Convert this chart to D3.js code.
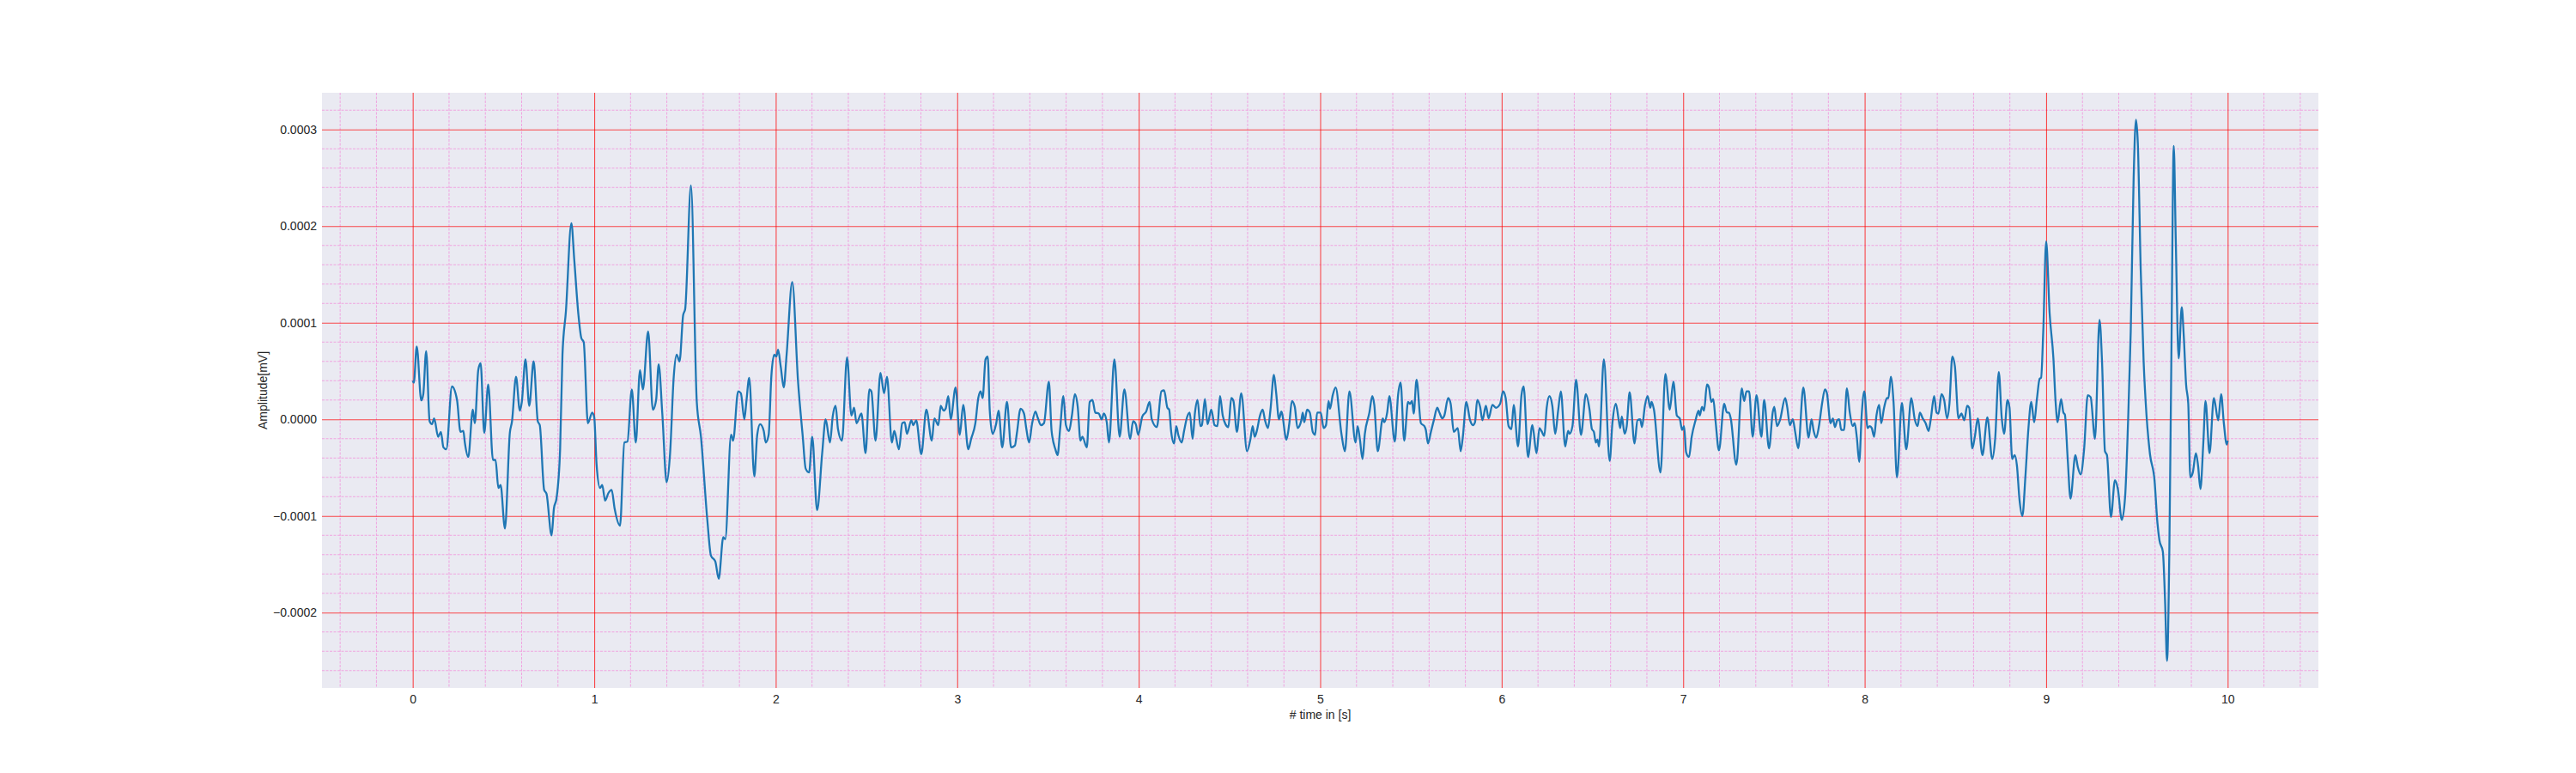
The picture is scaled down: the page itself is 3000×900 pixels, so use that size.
<!DOCTYPE html>
<html>
<head>
<meta charset="utf-8">
<script src="https://cdn.jsdelivr.net/npm/d3@7"></script>
<style>
  body { margin: 0; background: #fff; }
  text { font-family: "Liberation Sans", Arial, sans-serif; fill: #262626; }
</style>
</head>
<body>
<div id="chart"></div>
<script>
// Signal (peaks, troughs and bends)
// time in seconds
var times = [
  0.000, 0.006, 0.022, 0.047, 0.058, 0.074, 0.093, 0.106, 0.118, 0.140, 0.155, 0.169, 0.185, 0.216, 0.244, 0.263,
  0.279, 0.287, 0.306, 0.331, 0.342, 0.361, 0.374, 0.394, 0.416, 0.442, 0.456, 0.472, 0.484, 0.508, 0.535, 0.547,
  0.569, 0.590, 0.601, 0.621, 0.642, 0.666, 0.689, 0.700, 0.724, 0.737, 0.765, 0.778, 0.792, 0.812, 0.825, 0.844,
  0.874, 0.890, 0.913, 0.929, 0.942, 0.965, 0.989, 1.000, 1.013, 1.032, 1.044, 1.060, 1.079, 1.096, 1.112, 1.142,
  1.166, 1.183, 1.207, 1.229, 1.252, 1.268, 1.297, 1.323, 1.341, 1.355, 1.375, 1.399, 1.418, 1.438, 1.454, 1.470,
  1.490, 1.501, 1.533, 1.565, 1.588, 1.623, 1.643, 1.667, 1.686, 1.711, 1.722, 1.754, 1.765, 1.793, 1.808, 1.827,
  1.838, 1.854, 1.882, 1.898, 1.914, 1.934, 1.945, 1.961, 1.976, 1.992, 2.003, 2.013, 2.028, 2.044, 2.060, 2.091,
  2.123, 2.149, 2.165, 2.184, 2.201, 2.228, 2.256, 2.275, 2.299, 2.314, 2.330, 2.343, 2.365, 2.393, 2.417, 2.432,
  2.445, 2.472, 2.495, 2.516, 2.527, 2.550, 2.577, 2.597, 2.613, 2.640, 2.653, 2.679, 2.697, 2.711, 2.723, 2.747,
  2.758, 2.774, 2.802, 2.830, 2.860, 2.874, 2.896, 2.909, 2.925, 2.936, 2.951, 2.964, 2.991, 3.014, 3.033, 3.061,
  3.077, 3.100, 3.116, 3.129, 3.140, 3.156, 3.168, 3.179, 3.195, 3.214, 3.228, 3.248, 3.274, 3.297, 3.318, 3.329,
  3.349, 3.368, 3.381, 3.396, 3.412, 3.431, 3.443, 3.462, 3.478, 3.505, 3.520, 3.541, 3.553, 3.567, 3.585, 3.599,
  3.616, 3.632, 3.648, 3.664, 3.679, 3.690, 3.714, 3.730, 3.745, 3.761, 3.780, 3.796, 3.808, 3.824, 3.836, 3.866,
  3.895, 3.921, 3.953, 3.969, 3.984, 3.997, 4.020, 4.041, 4.060, 4.072, 4.100, 4.125, 4.140, 4.158, 4.168, 4.179,
  4.195, 4.207, 4.218, 4.237, 4.250, 4.266, 4.281, 4.297, 4.310, 4.324, 4.340, 4.348, 4.365, 4.379, 4.400, 4.418,
  4.434, 4.448, 4.463, 4.478, 4.494, 4.510, 4.522, 4.541, 4.565, 4.597, 4.615, 4.628, 4.639, 4.652, 4.667, 4.683,
  4.696, 4.712, 4.726, 4.745, 4.757, 4.773, 4.786, 4.814, 4.830, 4.844, 4.860, 4.875, 4.896, 4.904, 4.912, 4.928,
  4.943, 4.959, 4.972, 4.983, 5.003, 5.019, 5.032, 5.046, 5.054, 5.069, 5.085, 5.117, 5.136, 5.161, 5.195, 5.206,
  5.219, 5.233, 5.246, 5.271, 5.287, 5.298, 5.317, 5.345, 5.353, 5.369, 5.381, 5.411, 5.429, 5.443, 5.463, 5.484,
  5.495, 5.506, 5.515, 5.531, 5.555, 5.574, 5.582, 5.594, 5.610, 5.626, 5.645, 5.657, 5.673, 5.684, 5.705, 5.719,
  5.736, 5.758, 5.774, 5.786, 5.805, 5.826, 5.842, 5.853, 5.865, 5.881, 5.894, 5.913, 5.928, 5.949, 5.968, 5.991,
  6.008, 6.022, 6.038, 6.054, 6.066, 6.090, 6.109, 6.121, 6.145, 6.169, 6.192, 6.208, 6.219, 6.235, 6.248, 6.263,
  6.279, 6.295, 6.311, 6.326, 6.350, 6.366, 6.374, 6.390, 6.410, 6.437, 6.464, 6.484, 6.497, 6.508, 6.519, 6.528,
  6.536, 6.563, 6.595, 6.610, 6.629, 6.645, 6.653, 6.662, 6.677, 6.689, 6.705, 6.732, 6.748, 6.763, 6.773, 6.789,
  6.804, 6.819, 6.826, 6.839, 6.875, 6.902, 6.926, 6.946, 6.965, 6.981, 6.994, 7.005, 7.016, 7.032, 7.047, 7.068,
  7.085, 7.091, 7.104, 7.115, 7.131, 7.142, 7.155, 7.166, 7.178, 7.197, 7.226, 7.241, 7.252, 7.262, 7.293, 7.323,
  7.336, 7.349, 7.363, 7.383, 7.404, 7.431, 7.446, 7.473, 7.494, 7.502, 7.517, 7.533, 7.562, 7.573, 7.588, 7.604,
  7.617, 7.634, 7.662, 7.691, 7.707, 7.719, 7.733, 7.749, 7.765, 7.781, 7.792, 7.812, 7.825, 7.836, 7.849, 7.860,
  7.871, 7.886, 7.902, 7.918, 7.934, 7.945, 7.957, 7.970, 7.984, 7.998, 8.016, 8.028, 8.039, 8.052, 8.065, 8.080,
  8.091, 8.107, 8.123, 8.131, 8.144, 8.159, 8.178, 8.205, 8.229, 8.257, 8.276, 8.292, 8.304, 8.320, 8.336, 8.352,
  8.364, 8.383, 8.396, 8.407, 8.423, 8.438, 8.454, 8.467, 8.483, 8.497, 8.517, 8.533, 8.549, 8.565, 8.576, 8.593,
  8.607, 8.623, 8.649, 8.676, 8.703, 8.719, 8.739, 8.755, 8.768, 8.787, 8.798, 8.813, 8.826, 8.839, 8.853, 8.869,
  8.886, 8.902, 8.918, 8.934, 8.949, 8.964, 8.972, 8.984, 9.000, 9.019, 9.040, 9.052, 9.063, 9.082, 9.095, 9.103,
  9.119, 9.134, 9.161, 9.174, 9.190, 9.209, 9.229, 9.245, 9.269, 9.294, 9.308, 9.324, 9.335, 9.357, 9.379, 9.395,
  9.417, 9.435, 9.451, 9.466, 9.482, 9.495, 9.505, 9.521, 9.537, 9.553, 9.572, 9.597, 9.613, 9.624, 9.643, 9.655,
  9.666, 9.679, 9.690, 9.703, 9.714, 9.730, 9.747, 9.758, 9.771, 9.783, 9.794, 9.808, 9.825, 9.837, 9.850, 9.866,
  9.878, 9.900, 9.924, 9.948, 9.964, 9.979, 9.995, 10.000
];

// amplitude in units of 1e-4 mV
var amps = [
  0.40, 0.38, 0.755, 0.196, 0.26, 0.706, -0.02, -0.05, 0.01, -0.18, -0.13, -0.29, -0.31, 0.34, 0.20, -0.13,
  -0.12, -0.24, -0.39, 0.10, -0.04, 0.51, 0.58, -0.14, 0.36, -0.42, -0.42, -0.71, -0.68, -1.13, -0.14, -0.02,
  0.44, 0.09, 0.18, 0.62, 0.14, 0.60, -0.02, -0.06, -0.73, -0.77, -1.20, -0.92, -0.82, -0.31, 0.67, 1.12,
  2.03, 1.65, 1.08, 0.84, 0.80, -0.04, 0.07, 0.02, -0.47, -0.71, -0.68, -0.84, -0.76, -0.73, -0.92, -1.10,
  -0.24, -0.23, 0.31, -0.24, 0.51, 0.31, 0.91, 0.10, 0.20, 0.57, 0.06, -0.65, -0.35, 0.44, 0.67, 0.60,
  1.08, 1.14, 2.42, 0.18, -0.18, -1.04, -1.41, -1.47, -1.65, -1.22, -1.24, -0.16, -0.22, 0.29, 0.27, 0.00,
  0.18, 0.43, -0.59, -0.16, -0.05, -0.12, -0.24, -0.16, 0.45, 0.67, 0.65, 0.72, 0.54, 0.33, 0.67, 1.42,
  0.39, -0.18, -0.51, -0.55, -0.18, -0.94, -0.35, 0.00, -0.24, 0.03, 0.14, -0.10, -0.22, 0.64, 0.04, 0.12,
  -0.04, 0.06, -0.35, 0.31, 0.29, -0.22, 0.48, 0.27, 0.44, -0.24, -0.12, -0.31, -0.04, -0.03, -0.15, -0.01,
  -0.06, -0.01, -0.36, 0.10, -0.22, 0.01, -0.06, 0.14, 0.09, 0.11, 0.24, 0.00, 0.33, -0.16, 0.15, -0.31,
  -0.20, -0.04, 0.22, 0.29, 0.22, 0.62, 0.65, 0.10, -0.15, -0.05, 0.09, -0.29, 0.18, -0.29, -0.27, -0.14,
  0.11, 0.06, -0.10, -0.24, -0.05, 0.08, 0.02, -0.06, -0.04, 0.39, -0.12, -0.31, -0.37, -0.10, 0.24, -0.06,
  -0.12, 0.04, 0.26, 0.13, -0.22, -0.18, -0.29, 0.18, 0.20, 0.07, 0.06, 0.00, 0.06, -0.03, -0.24, 0.62,
  -0.18, 0.31, -0.20, -0.02, -0.05, -0.16, 0.03, 0.08, 0.18, 0.00, -0.08, 0.29, 0.30, 0.12, 0.10, -0.13,
  -0.25, -0.07, -0.16, -0.24, -0.12, 0.02, 0.07, -0.20, 0.07, 0.20, -0.07, -0.06, 0.21, -0.05, 0.10, -0.06,
  -0.07, 0.24, 0.04, -0.05, -0.08, 0.22, 0.19, -0.13, 0.27, -0.33, -0.21, -0.07, -0.18, -0.11, 0.03, 0.10,
  -0.01, -0.09, 0.10, 0.46, 0.28, 0.00, 0.08, -0.21, -0.04, 0.19, 0.13, -0.09, -0.01, 0.07, -0.03, 0.10,
  0.07, -0.13, -0.16, 0.07, 0.07, -0.09, -0.06, 0.19, 0.11, 0.25, 0.33, -0.15, -0.33, 0.29, -0.24, -0.07,
  -0.21, -0.41, -0.15, 0.07, 0.24, 0.15, -0.33, 0.01, -0.03, 0.07, 0.24, -0.23, 0.25, 0.38, -0.22, 0.18,
  0.16, 0.19, 0.06, 0.41, -0.04, -0.07, -0.11, -0.25, -0.13, -0.01, 0.12, 0.07, 0.01, 0.04, 0.22, 0.16,
  -0.13, -0.09, -0.33, -0.18, 0.18, -0.01, -0.06, -0.03, 0.20, 0.13, -0.01, 0.14, 0.01, 0.15, 0.12, 0.16,
  0.29, 0.22, -0.07, -0.10, 0.15, -0.28, 0.25, 0.34, -0.39, -0.06, -0.35, -0.09, -0.12, -0.17, 0.12, 0.24,
  0.14, -0.15, 0.09, 0.29, -0.28, -0.12, -0.15, -0.07, 0.41, -0.16, 0.26, 0.10, -0.10, -0.13, -0.24, -0.21,
  -0.28, 0.62, -0.43, -0.04, 0.16, -0.01, -0.09, 0.03, -0.15, -0.07, 0.28, -0.25, -0.01, 0.00, -0.08, 0.14,
  0.24, 0.12, 0.18, 0.10, -0.55, 0.47, 0.10, 0.39, 0.04, 0.01, -0.11, -0.07, -0.34, -0.39, -0.18, -0.01,
  0.09, 0.04, 0.13, 0.09, 0.36, 0.33, 0.18, 0.21, -0.01, -0.32, 0.16, 0.07, 0.07, 0.01, -0.47, 0.32,
  0.19, 0.29, 0.29, -0.18, 0.25, -0.18, 0.20, -0.30, 0.08, 0.13, -0.07, -0.01, 0.22, 0.13, -0.06, 0.00,
  -0.13, -0.30, 0.33, -0.19, 0.00, -0.12, -0.19, -0.06, 0.16, 0.31, 0.27, -0.04, 0.01, -0.08, -0.01, 0.00,
  -0.11, -0.11, 0.32, 0.07, -0.07, -0.04, -0.19, -0.44, 0.06, 0.29, -0.09, -0.07, -0.09, -0.18, 0.04, 0.15,
  -0.04, 0.12, 0.22, 0.22, 0.44, 0.18, -0.60, 0.17, -0.31, 0.22, 0.00, -0.07, 0.07, 0.01, -0.04, -0.12,
  0.00, 0.24, 0.07, 0.06, 0.26, 0.20, 0.01, 0.16, 0.65, 0.55, 0.01, 0.06, -0.01, 0.14, 0.12, -0.30,
  -0.18, 0.01, -0.37, 0.02, -0.41, -0.20, 0.49, 0.02, -0.15, 0.20, 0.12, -0.41, -0.37, -0.48, -0.83, -1.00,
  -0.58, -0.10, 0.18, -0.03, 0.21, 0.42, 0.43, 0.91, 1.84, 1.10, 0.63, 0.18, -0.03, 0.21, 0.07, 0.05,
  -0.42, -0.82, -0.37, -0.49, -0.57, -0.31, 0.25, 0.23, -0.20, 1.03, 0.59, -0.33, -0.37, -1.01, -0.63, -0.72,
  -1.04, -0.80, -0.04, 0.91, 2.50, 3.10, 2.86, 1.55, 0.60, 0.04, -0.36, -0.63, -1.07, -1.25, -1.37, -1.87,
  -2.50, -1.31, 0.67, 2.83, 1.87, 0.63, 1.16, 0.87, 0.36, 0.16, -0.60, -0.55, -0.35, -0.48, -0.72, -0.24,
  0.19, -0.35, 0.22, -0.01, 0.26, -0.04, -0.26, -0.22
];
var ampUnit = 1e-4;

// axis ticks
var xMajorTicks = [0, 1, 2, 3, 4, 5, 6, 7, 8, 9, 10];
var yMajorTicks = [-0.0002, -0.0001, 0, 0.0001, 0.0002, 0.0003];
var yTickLabels = ["\u22120.0002", "\u22120.0001", "0.0000", "0.0001", "0.0002", "0.0003"];

var xLabel = "# time in [s]";
var yLabel = "Amplitude[mV]";

// Chart Params
var svgWidth = 3000;
var svgHeight = 900;

var margin = { top: 108, right: 300, bottom: 99, left: 375 };
var chartWidth = svgWidth - margin.left - margin.right;
var chartHeight = svgHeight - margin.top - margin.bottom;

var data = times.map(function(t, i) {
    return { t: t, v: amps[i] * ampUnit };
});

var svg = d3.select("#chart")
    .append("svg")
    .attr("width", svgWidth)
    .attr("height", svgHeight);

var chartGroup = svg.append("g")
    .attr("transform", `translate(${margin.left}, ${margin.top})`);

// matplotlib style auto limits: data range plus 5% on each side
var tExt = d3.extent(data, d => d.t);
var vExt = d3.extent(data, d => d.v);
var tPad = (tExt[1] - tExt[0]) * 0.05;
var vPad = (vExt[1] - vExt[0]) * 0.05;

var xScale = d3.scaleLinear()
    .domain([tExt[0] - tPad, tExt[1] + tPad])
    .range([0, chartWidth]);

var yScale = d3.scaleLinear()
    .domain([vExt[0] - vPad, vExt[1] + vPad])
    .range([chartHeight, 0]);

// background
chartGroup.append("rect")
    .attr("width", chartWidth)
    .attr("height", chartHeight)
    .attr("fill", "#eaeaf2");

// minor grid (every 0.2 s and every 0.00002 mV)
var xMinor = d3.range(-2, 53).map(i => i * 0.2)
    .filter(t => t >= xScale.domain()[0] && t <= xScale.domain()[1] && Math.abs(t - Math.round(t)) > 1e-6);
var yMinor = d3.range(-14, 17).map(i => i * 0.00002)
    .filter(v => v >= yScale.domain()[0] && v <= yScale.domain()[1] && Math.abs(v / 0.0001 - Math.round(v / 0.0001)) > 1e-6);

var minorStyle = function(sel) {
    sel.attr("stroke", "#f0a4e0")
        .attr("stroke-width", 1)
        .attr("stroke-dasharray", "3,1.5");
};

chartGroup.append("g").selectAll("line")
    .data(xMinor)
    .join("line")
    .attr("x1", d => xScale(d)).attr("x2", d => xScale(d))
    .attr("y1", 0).attr("y2", chartHeight)
    .call(minorStyle);

chartGroup.append("g").selectAll("line")
    .data(yMinor)
    .join("line")
    .attr("y1", d => yScale(d)).attr("y2", d => yScale(d))
    .attr("x1", 0).attr("x2", chartWidth)
    .call(minorStyle);

// major grid via the axes, tick lines stretched across the plot
var bottomAxis = d3.axisBottom(xScale)
    .tickValues(xMajorTicks)
    .tickSize(chartHeight)
    .tickPadding(8)
    .tickFormat(d3.format("d"));

var leftAxis = d3.axisLeft(yScale)
    .tickValues(yMajorTicks)
    .tickSize(chartWidth)
    .tickPadding(6)
    .tickFormat((d, i) => yTickLabels[i]);

var xAxis = chartGroup.append("g")
    .attr("transform", "translate(0, 0)")
    .call(bottomAxis);

var yAxis = chartGroup.append("g")
    .attr("transform", `translate(${chartWidth}, 0)`)
    .call(leftAxis);

[xAxis, yAxis].forEach(function(ax) {
    ax.select(".domain").remove();
    ax.selectAll(".tick line")
        .attr("stroke", "red")
        .attr("stroke-opacity", 0.7)
        .attr("stroke-width", 1.1);
    ax.selectAll(".tick text")
        .attr("fill", "#262626")
        .style("font-family", "'Liberation Sans', Arial, sans-serif")
        .style("font-size", "14px");
});

// the signal
var line = d3.line()
    .x(d => xScale(d.t))
    .y(d => yScale(d.v))
    .curve(d3.curveMonotoneX);

chartGroup.append("path")
    .datum(data)
    .attr("fill", "none")
    .attr("stroke", "#1f77b4")
    .attr("stroke-width", 2.3)
    .attr("stroke-linejoin", "round")
    .attr("d", line);

// axis labels
chartGroup.append("text")
    .attr("x", chartWidth / 2)
    .attr("y", chartHeight + 36)
    .attr("text-anchor", "middle")
    .style("font-size", "14px")
    .text(xLabel);

chartGroup.append("text")
    .attr("transform", "rotate(-90)")
    .attr("x", -chartHeight / 2)
    .attr("y", -64)
    .attr("text-anchor", "middle")
    .style("font-size", "14px")
    .text(yLabel);
</script>
</body>
</html>
